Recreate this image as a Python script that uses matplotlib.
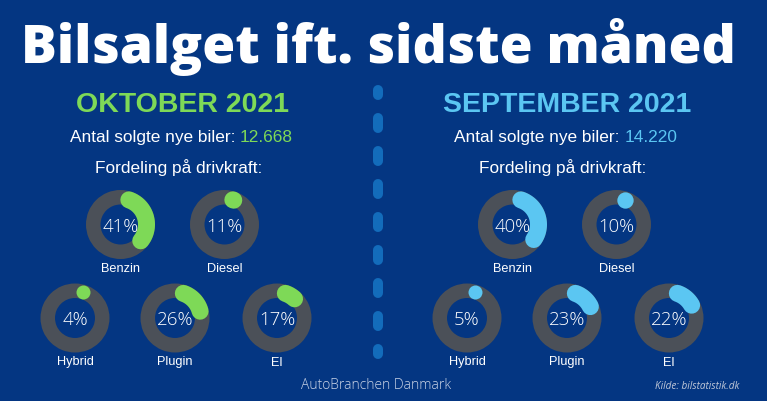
import matplotlib
matplotlib.use("Agg")
import matplotlib.pyplot as plt
from matplotlib.patches import Wedge
import numpy as np

# Data
title = "Bilsalget ift. sidste måned"
months = ["OKTOBER 2021", "SEPTEMBER 2021"]
sold = ["12.668", "14.220"]
fuels = ["Benzin", "Diesel", "Hybrid", "Plugin", "El"]
oct_share = [41, 11, 4, 26, 17]
sep_share = [40, 10, 5, 23, 22]
shares = [oct_share, sep_share]

# Style
BG = "#043682"
RING = "#4b5058"
ACCENT = ["#7ed957", "#5bc6f2"]
DASH = "#136cbb"
W, H = 767, 401
plt.rcParams["lines.scale_dashes"] = False

fig = plt.figure(figsize=(W / 100, H / 100), dpi=100, facecolor=BG)
ax = fig.add_axes([0, 0, 1, 1])
ax.set_xlim(0, W); ax.set_ylim(H, 0)
ax.axis("off")
ax.set_facecolor(BG)
renderer = fig.canvas.get_renderer()

px = 72 / 100  # points per pixel


def to_x(disp_x):
    return ax.transData.inverted().transform((disp_x, 0))[0]


# title, sized to span the reference width
tt = ax.text(W / 2 - 5, 63, title, color="white", fontsize=40, family="Open Sans",
             fontweight="heavy", ha="center", va="baseline")
tw = tt.get_window_extent(renderer).width
tt.set_fontsize(40 * 713 / tw)

# donut layout (panel-relative)
centers = [(120.5, 224.5), (224.5, 224.5), (75, 318), (175, 318), (277, 318)]
panel_dx = [0, 392]
head_x = [182.5, 567]
R_OUT, RING_W = 34.5, 14.5
ARC_W = 17
r_mid = R_OUT - ARC_W / 2

for p in range(2):
    hx = head_x[p]
    ax.text(hx, 112, months[p], color=ACCENT[p], fontsize=20.5, family="Liberation Sans",
            fontweight="bold", ha="center", va="baseline")

    # "Antal solgte nye biler: " in white, count in accent colour
    pre = ax.text(0, 142, "Antal solgte nye biler: ", color="white", fontsize=12.4,
                  family="Liberation Sans", ha="left", va="baseline")
    num = ax.text(0, 142, sold[p], color=ACCENT[p], fontsize=12.4,
                  family="Liberation Sans", ha="left", va="baseline")
    w1 = pre.get_window_extent(renderer).width
    w2 = num.get_window_extent(renderer).width
    left = to_x(ax.transData.transform((hx - 1, 0))[0] - (w1 + w2) / 2)
    pre.set_x(left)
    num.set_x(to_x(ax.transData.transform((left, 0))[0] + w1))

    ax.text(hx - 4, 173, "Fordeling på drivkraft:", color="white", fontsize=12.4,
            family="Liberation Sans", ha="center", va="baseline")

    for (cx, cy), name, val in zip(centers, fuels, shares[p]):
        cx = cx + panel_dx[p]
        ax.add_patch(Wedge((cx, cy), R_OUT, 0, 360, width=RING_W, color=RING, lw=0))
        end = val / 100 * 360
        arc_len = np.radians(end) * r_mid
        cap = np.degrees((ARC_W / 2) / r_mid)
        if end - cap > cap:
            th = np.radians(np.linspace(cap, end - cap, 80))
            ax.plot(cx + r_mid * np.sin(th), cy - r_mid * np.cos(th), color=ACCENT[p],
                    lw=ARC_W * px, solid_capstyle="round")
        else:
            # very short arc: just the rounded end, drawn as a dot
            d = min(ARC_W, max(14, arc_len))
            rm = R_OUT - d / 2
            th = np.arcsin((d / 2) / rm) * 1.1
            ax.plot(cx + rm * np.sin(th), cy - rm * np.cos(th), "o", color=ACCENT[p],
                    ms=d * px, mew=0)
        ax.text(cx, cy + 7, f"{val}%", color="white", fontsize=13.4, family="Open Sans",
                fontweight="light", ha="center", va="baseline")
        ax.text(cx, cy + 47.5, name, color="white", fontsize=9.2, family="Liberation Sans",
                ha="center", va="baseline")

# dashed divider
ax.plot([377.7, 377.7], [90, 354], color=DASH, lw=10 * px,
        linestyle=(5 * px, (10 * px, 23 * px)), dash_capstyle="round")

ax.text(376.5, 389, "AutoBranchen Danmark", color="#c9d3e6", fontsize=10,
        family="Open Sans", fontweight="light", ha="center", va="baseline")
ax.text(697, 389, "Kilde: bilstatistik.dk", color="#c0c8d8", fontsize=7.2,
        family="Open Sans", style="italic", ha="center", va="baseline")

fig.savefig("out.png", dpi=100, facecolor=BG)
